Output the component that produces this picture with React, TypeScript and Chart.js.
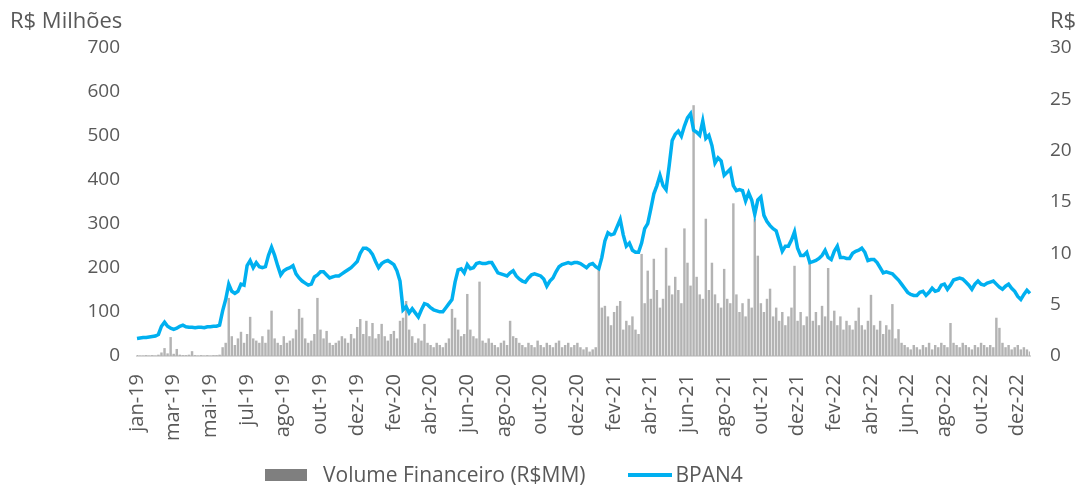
import React, { useEffect, useRef } from "react";
import { Chart, registerables } from "chart.js";

Chart.register(...registerables);

const tickLabels = [
  "jan-19", "mar-19", "mai-19", "jul-19", "ago-19", "out-19", "dez-19",
  "fev-20", "abr-20", "jun-20", "ago-20", "out-20", "dez-20",
  "fev-21", "abr-21", "jun-21", "ago-21", "out-21", "dez-21",
  "fev-22", "abr-22", "jun-22", "ago-22", "out-22", "dez-22",
];
const pointsPerTick = 12;

const bpan4 = [
  1.7, 1.75, 1.8, 1.8, 1.85, 1.9, 1.95, 2.1, 2.9, 3.3,
  2.9, 2.7, 2.6, 2.7, 2.9, 3.0, 2.85, 2.8, 2.8, 2.75,
  2.8, 2.8, 2.75, 2.85, 2.85, 2.9, 2.9, 3.0, 4.4, 5.5,
  7.0, 6.3, 6.1, 6.3, 7.0, 6.9, 8.8, 9.3, 8.6, 9.1,
  8.7, 8.6, 8.7, 9.8, 10.6, 9.8, 8.8, 7.9, 8.3, 8.5,
  8.6, 8.8, 8.0, 7.6, 7.3, 7.1, 6.9, 7.0, 7.7, 7.9,
  8.2, 8.2, 7.9, 7.6, 7.7, 7.8, 7.8, 8.0, 8.2, 8.4,
  8.6, 8.9, 9.2, 10.0, 10.5, 10.5, 10.3, 9.9, 9.2, 8.6,
  9.0, 9.2, 9.3, 9.1, 8.9, 8.3, 7.3, 4.5, 4.8, 4.2,
  4.6, 4.2, 3.8, 4.5, 5.1, 5.0, 4.7, 4.5, 4.4, 4.3,
  4.3, 4.7, 5.1, 5.5, 7.2, 8.4, 8.5, 8.1, 8.9, 8.5,
  8.6, 9.0, 9.1, 9.0, 9.0, 9.1, 9.1, 8.6, 8.1, 8.0,
  7.9, 7.8, 8.1, 8.3, 7.8, 7.5, 7.3, 7.2, 7.6, 7.9,
  8.0, 7.9, 7.8, 7.5, 6.8, 7.3, 7.6, 8.2, 8.7, 8.9,
  9.0, 9.1, 9.0, 9.1, 9.1, 9.0, 8.8, 8.6, 8.9, 9.0,
  8.7, 8.5, 9.6, 11.2, 12.0, 11.8, 11.9, 12.6, 13.3, 11.8,
  10.7, 11.0, 10.3, 10.1, 10.1, 11.0, 12.4, 12.9, 14.3, 15.8,
  16.6, 17.6, 16.6, 16.2, 18.5, 21.0, 21.6, 21.9, 21.4, 22.4,
  23.2, 23.6, 22.0, 21.8, 21.5, 22.9, 21.2, 21.5, 20.5, 18.8,
  19.3, 19.0, 17.6, 17.9, 18.2, 16.6, 16.1, 16.2, 16.1, 15.1,
  15.9, 15.2, 13.8, 15.2, 15.5, 13.7, 13.1, 12.7, 12.4, 12.2,
  11.2, 10.2, 10.7, 10.7, 11.3, 12.1, 10.5, 9.8, 9.8, 10.1,
  9.1, 9.2, 9.3, 9.5, 9.8, 10.3, 9.6, 9.4, 10.2, 10.7,
  9.6, 9.6, 9.5, 9.5, 10.0, 10.2, 10.3, 10.5, 10.1, 9.3,
  9.4, 9.4, 9.1, 8.6, 8.1, 8.2, 8.1, 8.0, 7.7, 7.4,
  7.0, 6.6, 6.2, 6.0, 5.9, 5.9, 6.2, 6.3, 5.9, 6.2,
  6.6, 6.3, 6.4, 6.9, 7.0, 6.5, 6.9, 7.4, 7.5, 7.6,
  7.5, 7.2, 6.9, 6.5, 7.0, 7.3, 7.0, 6.9, 7.1, 7.2,
  7.3, 7.0, 6.7, 6.5, 6.8, 7.0, 6.6, 6.3, 5.8, 5.5,
  6.0, 6.4, 6.1,
];

const volume = [
  2, 1, 1, 2, 1, 2, 1, 3, 8, 18,
  6, 43, 5, 16, 3, 2, 2, 3, 11, 2,
  1, 2, 1, 2, 1, 2, 2, 3, 20, 30,
  132, 45, 25, 40, 55, 30, 50, 89, 40, 35,
  30, 45, 30, 60, 103, 40, 30, 25, 45, 30,
  35, 40, 60, 107, 87, 40, 30, 35, 50, 132,
  60, 40, 57, 30, 25, 30, 35, 45, 40, 30,
  50, 40, 66, 84, 50, 80, 45, 75, 40, 50,
  73, 45, 35, 50, 57, 40, 80, 87, 125, 60,
  45, 30, 40, 35, 73, 30, 25, 20, 30, 25,
  20, 30, 40, 107, 87, 60, 45, 50, 141, 60,
  45, 40, 169, 35, 30, 40, 30, 25, 20, 30,
  35, 25, 80, 45, 41, 30, 25, 20, 30, 25,
  20, 35, 25, 20, 30, 25, 20, 30, 35, 20,
  25, 30, 20, 25, 30, 20, 15, 20, 10, 15,
  20, 200, 110, 114, 90, 70, 100, 114, 125, 60,
  80, 70, 90, 60, 50, 232, 120, 194, 130, 221,
  150, 110, 130, 246, 160, 140, 180, 150, 120, 290,
  212, 160, 570, 180, 140, 130, 312, 150, 212, 140,
  120, 110, 198, 130, 120, 347, 140, 100, 120, 90,
  130, 110, 312, 228, 120, 100, 130, 153, 90, 110,
  80, 100, 70, 90, 110, 205, 80, 100, 70, 90,
  212, 80, 100, 70, 114, 90, 200, 80, 103, 70,
  90, 60, 80, 70, 60, 80, 110, 70, 60, 80,
  139, 70, 60, 80, 50, 70, 60, 118, 40, 61,
  30, 25, 20, 15, 25, 20, 15, 25, 20, 30,
  15, 25, 20, 30, 25, 20, 75, 30, 25, 20,
  30, 25, 20, 15, 25, 20, 30, 25, 20, 25,
  20, 87, 64, 30, 20, 25, 15, 20, 25, 15,
  20, 15, 10,
];

const categories = bpan4.map((_, i) =>
  i % pointsPerTick === 0 && tickLabels[i / pointsPerTick] ? tickLabels[i / pointsPerTick] : ""
);

const FONT = "'Open Sans', 'Noto Sans', sans-serif";
const TEXT = "#595959";

export default function App() {
  const ref = useRef<HTMLCanvasElement | null>(null);
  useEffect(() => {
    if (!ref.current) return;
    const chart = new Chart(ref.current, {
      type: "bar",
      data: {
        labels: categories,
        datasets: [
          {
            type: "line",
            label: "BPAN4",
            data: bpan4,
            yAxisID: "y1",
            borderColor: "#00b0f0",
            backgroundColor: "#00b0f0",
            borderWidth: 3.5,
            pointRadius: 0,
            tension: 0,
            order: 0,
          } as any,
          {
            type: "bar",
            label: "Volume Financeiro (R$MM)",
            data: volume,
            yAxisID: "y",
            backgroundColor: "#b3b3b3",
            barPercentage: 0.8,
            categoryPercentage: 1,
            order: 1,
          },
        ],
      },
      options: {
        responsive: false,
        animation: false,
        layout: { padding: { top: 40, left: 0, right: 0, bottom: 0 } },
        plugins: { legend: { display: false }, tooltip: { enabled: false } },
        scales: {
          x: {
            type: "category",
            offset: false,
            grid: { display: false, drawTicks: false, offset: false },
            border: { display: true, color: "#d9d9d9", width: 2 },
            ticks: {
              autoSkip: false,
              minRotation: 90,
              maxRotation: 90,
              padding: 18,
              color: TEXT,
              font: { family: FONT, size: 20 },
              callback: (_v: any, i: number) => categories[i],
            },
            afterFit: (s: any) => {
              s.height = 133;
            },
          },
          y: {
            position: "left",
            min: 0,
            max: 700,
            grid: { display: false, drawTicks: false },
            border: { display: false },
            ticks: {
              stepSize: 100,
              padding: 17,
              color: TEXT,
              font: { family: FONT, size: 19 },
            },
            afterFit: (s: any) => {
              s.width = 129;
            },
          },
          y1: {
            position: "right",
            min: 0,
            max: 30,
            grid: { display: false, drawTicks: false },
            border: { display: false },
            ticks: {
              stepSize: 5,
              padding: 20,
              color: TEXT,
              font: { family: FONT, size: 19 },
            },
            afterFit: (s: any) => {
              s.width = 49;
            },
          },
        },
      },
    });
    return () => chart.destroy();
  }, []);

  const txt: React.CSSProperties = {
    position: "absolute",
    fontFamily: FONT,
    color: TEXT,
    whiteSpace: "nowrap",
    lineHeight: "1",
  };

  return (
    <div style={{ position: "relative", width: 1071, height: 481 }}>
      <canvas ref={ref} width={1071} height={481} style={{ position: "absolute", left: 0, top: 0 }} />
      <div style={{ ...txt, left: 2, top: 0, fontSize: 22 }}>R$ Milhões</div>
      <div style={{ ...txt, left: 1042, top: 0, fontSize: 22 }}>R$</div>
      <div style={{ ...txt, left: 257, top: 456, fontSize: 21, display: "flex", alignItems: "center" }}>
        <span style={{ display: "inline-block", width: 42, height: 12, background: "#7f7f7f", marginRight: 16 }} />
        <span>Volume Financeiro (R$MM)</span>
        <span style={{ display: "inline-block", width: 44, height: 4, background: "#00b0f0", marginLeft: 42, marginRight: 4 }} />
        <span>BPAN4</span>
      </div>
    </div>
  );
}
